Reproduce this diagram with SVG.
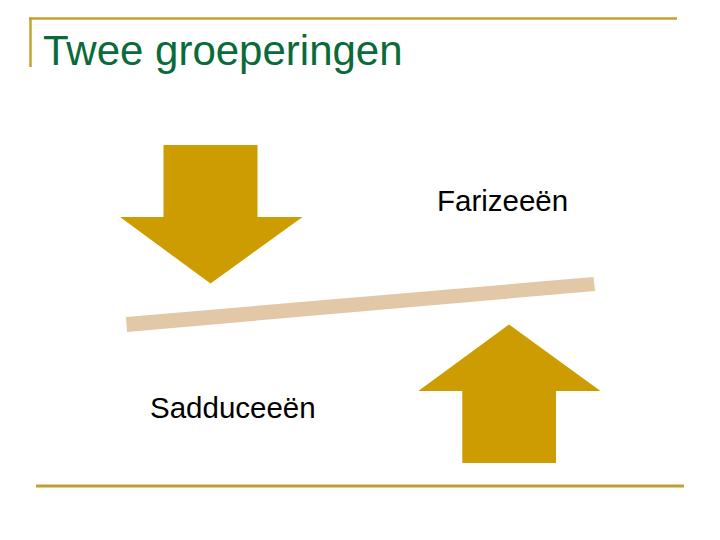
<svg xmlns="http://www.w3.org/2000/svg" width="720" height="540" viewBox="0 0 720 540">
<style>
.frame{stroke:#c8a22c;fill:none}
.arrow{fill:#cc9c00}
.label{font-family:"Liberation Sans",Arial,sans-serif;font-size:29.5px;fill:#000}
.title{font-family:"Liberation Sans",Arial,sans-serif;font-size:42px;fill:#0b6a3a}
</style>
<rect width="720" height="540" fill="#fff"/>
<g id="frame">
<path class="frame" d="M29 18.5H677" stroke-width="2.5"/>
<path class="frame" d="M30.5 17.5V67" stroke-width="2.5"/>
<path d="M36 486H684" stroke="#bfa032" stroke-width="2.8" fill="none"/>
</g>
<g id="title"><text class="title" x="43" y="65">Twee groeperingen</text></g>
<g id="down-arrow"><polygon class="arrow" points="163.5,145 257.5,145 257.5,217 302.5,217 210.5,283.5 120,217 163.5,217"/></g>
<g id="beam"><polygon fill="#e2c8a6" points="126,317 593.5,277 595,291 127,332"/></g>
<g id="up-arrow"><polygon class="arrow" points="509,324.5 600.5,391 556,391 556,463 462.3,463 462.3,391 418.3,391"/></g>
<g id="farizeeen"><text class="label" x="437" y="211">Farizeeën</text></g>
<g id="sadduceeen"><text class="label" x="150" y="417.5">Sadduceeën</text></g>
</svg>
